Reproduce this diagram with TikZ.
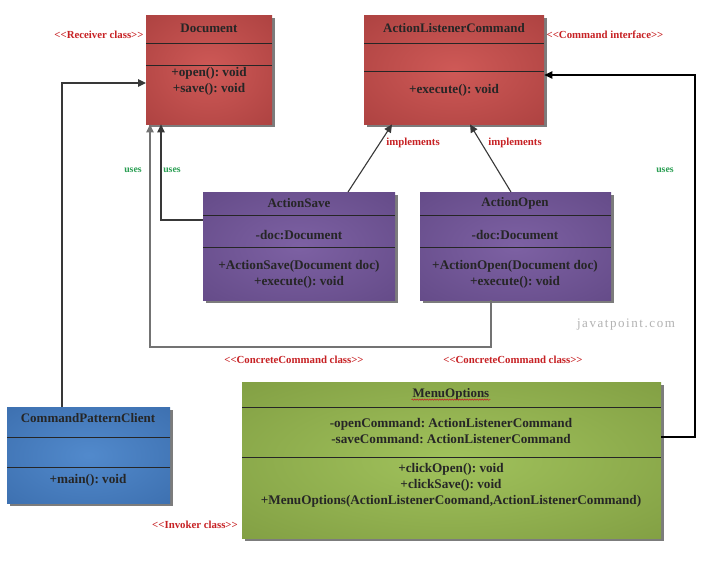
\documentclass[tikz,border=0pt]{standalone}
\usepackage{fontspec}
\setmainfont{Liberation Serif}
\newfontfamily\markfont[LetterSpace=12]{Liberation Serif}
\usetikzlibrary{arrows.meta,shadows,decorations.pathmorphing}

% box glows: light centre, darker rim
\pgfdeclareradialshading{redglow}{\pgfpoint{0bp}{0bp}}{rgb(0bp)=(0.81,0.35,0.34); rgb(72bp)=(0.55,0.17,0.17)}
\pgfdeclareradialshading{purpleglow}{\pgfpoint{0bp}{0bp}}{rgb(0bp)=(0.49,0.38,0.64); rgb(72bp)=(0.30,0.21,0.43)}
\pgfdeclareradialshading{blueglow}{\pgfpoint{0bp}{0bp}}{rgb(0bp)=(0.32,0.54,0.80); rgb(72bp)=(0.16,0.34,0.58)}
\pgfdeclareradialshading{greenglow}{\pgfpoint{0bp}{0bp}}{rgb(0bp)=(0.63,0.76,0.36); rgb(72bp)=(0.39,0.49,0.17)}

\definecolor{stereored}{rgb}{0.78,0.13,0.14}
\definecolor{usesgreen}{rgb}{0.16,0.62,0.32}
\definecolor{wire}{rgb}{0.22,0.22,0.22}

\newcommand\stereo[1]{<\kern0pt<#1>\kern0pt>}

\begin{document}
\frenchspacing
\begin{tikzpicture}[x=1pt,y=-1pt,
  classbox/.style={draw=none, inner sep=0, anchor=north west,
    drop shadow={shadow xshift=2.5pt, shadow yshift=-2.5pt, fill=black!60, opacity=0.85}},
  divider/.style={draw=black!85, line width=0.8pt},
  ctitle/.style={font=\bfseries\fontsize{13}{16}\selectfont, text=black!85, inner sep=1pt},
  member/.style={font=\bfseries\fontsize{13.2}{16}\selectfont, text=black!85, align=center, inner sep=1pt},
  stereotype/.style={font=\bfseries\fontsize{10.8}{12}\selectfont, text=stereored, inner sep=1pt},
  useslabel/.style={font=\bfseries\fontsize{9.8}{12}\selectfont, text=usesgreen, inner sep=1pt},
  conn/.style={draw=wire, line width=1.1pt, -{Triangle[length=8pt,width=7.5pt]}},
]
\useasboundingbox[fill=white] (0,0) rectangle (718,564);

% ---------- classes ----------
\node[classbox, shading=redglow, minimum width=126pt, minimum height=109pt] (doc) at (146,15) {};
\draw[divider] ([yshift=-28pt]doc.north west) -- ([yshift=-28pt]doc.north east);
\draw[divider] ([yshift=-50pt]doc.north west) -- ([yshift=-50pt]doc.north east);
\node[ctitle] (doct) at (209,28) {Document};
\node[member] (docm) at (209,81) {+open(): void\\+save(): void};

\node[classbox, shading=redglow, minimum width=180pt, minimum height=109pt] (alc) at (364,15) {};
\draw[divider] ([yshift=-28pt]alc.north west) -- ([yshift=-28pt]alc.north east);
\draw[divider] ([yshift=-56pt]alc.north west) -- ([yshift=-56pt]alc.north east);
\node[ctitle] (alct) at (454,28) {ActionListenerCommand};
\node[member] (alcm) at (454,90) {+execute(): void};

\node[classbox, shading=purpleglow, minimum width=192pt, minimum height=108pt] (save) at (203,192) {};
\draw[divider] ([yshift=-23pt]save.north west) -- ([yshift=-23pt]save.north east);
\draw[divider] ([yshift=-55pt]save.north west) -- ([yshift=-55pt]save.north east);
\node[ctitle] (savet) at (299,203) {ActionSave};
\node[member] (savea) at (299,235) {-doc:Document};
\node[member] (savem) at (299,274) {+ActionSave(Document doc)\\+execute(): void};

\node[classbox, shading=purpleglow, minimum width=191pt, minimum height=108pt] (open) at (420,192) {};
\draw[divider] ([yshift=-23pt]open.north west) -- ([yshift=-23pt]open.north east);
\draw[divider] ([yshift=-55pt]open.north west) -- ([yshift=-55pt]open.north east);
\node[ctitle] (opent) at (515,203) {ActionOpen};
\node[member] (opena) at (515,235) {-doc:Document};
\node[member] (openm) at (515,274) {+ActionOpen(Document doc)\\+execute(): void};

\node[classbox, shading=blueglow, minimum width=163pt, minimum height=96pt] (cli) at (7,407) {};
\draw[divider] ([yshift=-30pt]cli.north west) -- ([yshift=-30pt]cli.north east);
\draw[divider] ([yshift=-60pt]cli.north west) -- ([yshift=-60pt]cli.north east);
\node[ctitle] (clit) at (88,418) {CommandPatternClient};
\node[member] (clim) at (88,480) {+main(): void};

\node[classbox, shading=greenglow, minimum width=419pt, minimum height=156pt] (menu) at (242,382) {};
\draw[divider] ([yshift=-25pt]menu.north west) -- ([yshift=-25pt]menu.north east);
\draw[divider] ([yshift=-75pt]menu.north west) -- ([yshift=-75pt]menu.north east);
\node[ctitle] (menut) at (451,394) {MenuOptions};
\draw[stereored, line width=0.5pt, decorate, decoration={snake, amplitude=0.7pt, segment length=2.5pt}]
  ([yshift=-2.5pt]menut.base west) -- ([yshift=-2.5pt]menut.base east);
\node[member] (menua) at (451,431.5) {-openCommand: ActionListenerCommand\\-saveCommand: ActionListenerCommand};
\node[member] (menum) at (451,485.5) {+clickOpen(): void\\+clickSave(): void\\+MenuOptions(ActionListenerCoomand,ActionListenerCommand)};

% ---------- connectors ----------
\coordinate (cliup) at (62,83);
\draw[conn] (cli.north -| cliup) -- (cliup) -- (doc.west |- cliup);

\coordinate (savebend) at (161,220);
\draw[conn] (save.west |- savebend) -- (savebend) -- (doc.south -| savebend);

\coordinate (opendown) at (491,347);
\coordinate (openleft) at (150,347);
\draw[conn, draw=black!55] (open.south -| opendown) -- (opendown) -- (openleft) -- (doc.south -| openleft);

\draw[conn] ([xshift=145pt]save.north west) -- ([xshift=28pt]alc.south west);
\draw[conn] ([xshift=91pt]open.north west) -- ([xshift=106pt]alc.south west);

\coordinate (menuright) at (695,437);
\coordinate (menuup) at (695,75);
\draw[conn, draw=black] (menu.east |- menuright) -- (menuright) -- (menuup) -- (alc.east |- menuup);

% ---------- labels ----------
\node[stereotype] (lrecv) at (99,35) {\stereo{Receiver class}};
\node[stereotype] (lcmd) at (605,35) {\stereo{Command interface}};
\node[stereotype] (limp1) at (413,143) {implements};
\node[stereotype] (limp2) at (515,143) {implements};
\node[useslabel] (luse1) at (133,170) {uses};
\node[useslabel] (luse2) at (172,170) {uses};
\node[useslabel] (luse3) at (665,170) {uses};
\node[stereotype] (lcc1) at (294,360) {\stereo{ConcreteCommand class}};
\node[stereotype] (lcc2) at (513,360) {\stereo{ConcreteCommand class}};
\node[stereotype] (linv) at (195,525) {\stereo{Invoker class}};
\node[font=\markfont\fontsize{13}{15}\selectfont, text=black!30, inner sep=1pt] (mark) at (626,325) {javatpoint.com};
\end{tikzpicture}
\end{document}
